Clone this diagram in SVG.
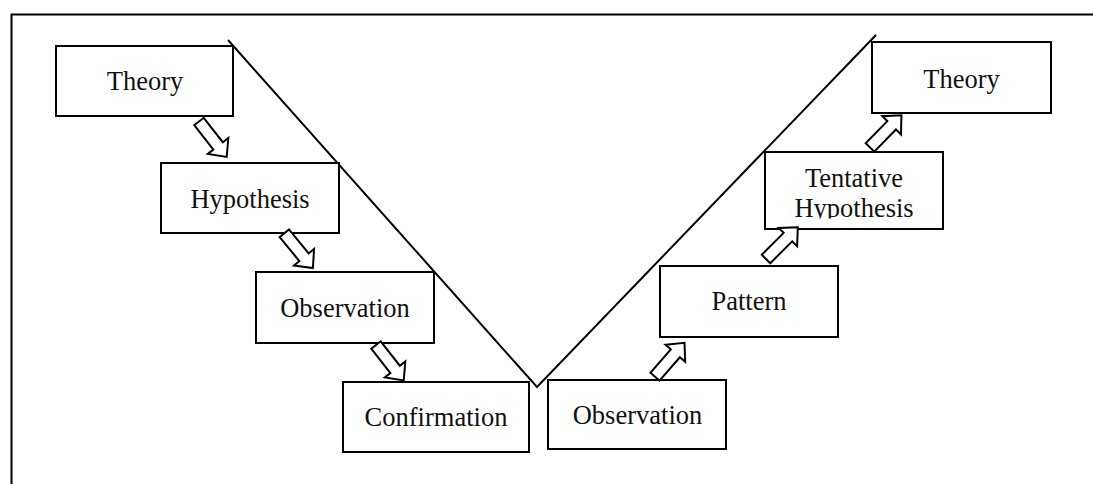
<svg xmlns="http://www.w3.org/2000/svg" width="1093" height="484" viewBox="0 0 1093 484">
  <style>
    .box { fill: #ffffff; stroke: #000000; stroke-width: 2; }
    .lbl { font-family: "Liberation Serif", "Times New Roman", serif; font-size: 26.5px; fill: #111111; text-anchor: middle; }
    .frame { fill: none; stroke: #000000; stroke-width: 2; }
    .vee { fill: none; stroke: #000000; stroke-width: 2; }
    .blk { fill: #ffffff; stroke: #000000; stroke-width: 2; stroke-linejoin: miter; }
  </style>
  <defs>
    <!-- hollow block arrow pointing along +x, 45 px long -->
    <polygon id="blockArrow" points="0,-6 31,-6 31,-13 45,0 31,13 31,6 0,6"/>
    <clipPath id="clipTentative">
      <rect x="765" y="152" width="178" height="66.5"/>
    </clipPath>
  </defs>

  <rect width="1093" height="484" fill="#ffffff"/>

  <!-- outer frame: top and left edges -->
  <path class="frame" d="M11.5,484 V14.5 H1093"/>

  <!-- V-shaped guide line -->
  <path class="vee" d="M228,40 L537,387 L876,35"/>

  <!-- deductive branch -->
  <g id="theory-left">
    <rect class="box" x="56" y="46" width="177" height="70"/>
    <text class="lbl" x="145" y="90">Theory</text>
  </g>
  <g id="hypothesis">
    <rect class="box" x="161" y="163" width="178" height="70"/>
    <text class="lbl" x="250" y="208">Hypothesis</text>
  </g>
  <g id="observation-left">
    <rect class="box" x="256" y="272" width="178" height="71"/>
    <text class="lbl" x="345" y="317">Observation</text>
  </g>
  <g id="confirmation">
    <rect class="box" x="343" y="382" width="186" height="70"/>
    <text class="lbl" x="436" y="426">Confirmation</text>
  </g>

  <!-- inductive branch -->
  <g id="observation-right">
    <rect class="box" x="548" y="380" width="178" height="69"/>
    <text class="lbl" x="637.5" y="423.5">Observation</text>
  </g>
  <g id="pattern">
    <rect class="box" x="660" y="266" width="178" height="71"/>
    <text class="lbl" x="749" y="310">Pattern</text>
  </g>
  <g id="tentative-hypothesis">
    <rect class="box" x="765" y="152" width="178" height="77"/>
    <g clip-path="url(#clipTentative)">
      <text class="lbl" x="854" y="187">Tentative</text>
      <text class="lbl" x="854" y="217">Hypothesis</text>
    </g>
  </g>
  <g id="theory-right">
    <rect class="box" x="872" y="42" width="179" height="71"/>
    <text class="lbl" x="961.5" y="87.5">Theory</text>
  </g>

  <!-- connectors -->
  <g id="connectors">
    <use href="#blockArrow" class="blk" transform="translate(199,121.5) rotate(52)"/>
    <use href="#blockArrow" class="blk" transform="translate(284.3,233.3) rotate(50.5)"/>
    <use href="#blockArrow" class="blk" transform="translate(376,345) rotate(52)"/>
    <use href="#blockArrow" class="blk" transform="translate(655,376.7) rotate(-49)"/>
    <use href="#blockArrow" class="blk" transform="translate(766,259) rotate(-45)"/>
    <use href="#blockArrow" class="blk" transform="translate(870,147.5) rotate(-45.7)"/>
  </g>
</svg>
